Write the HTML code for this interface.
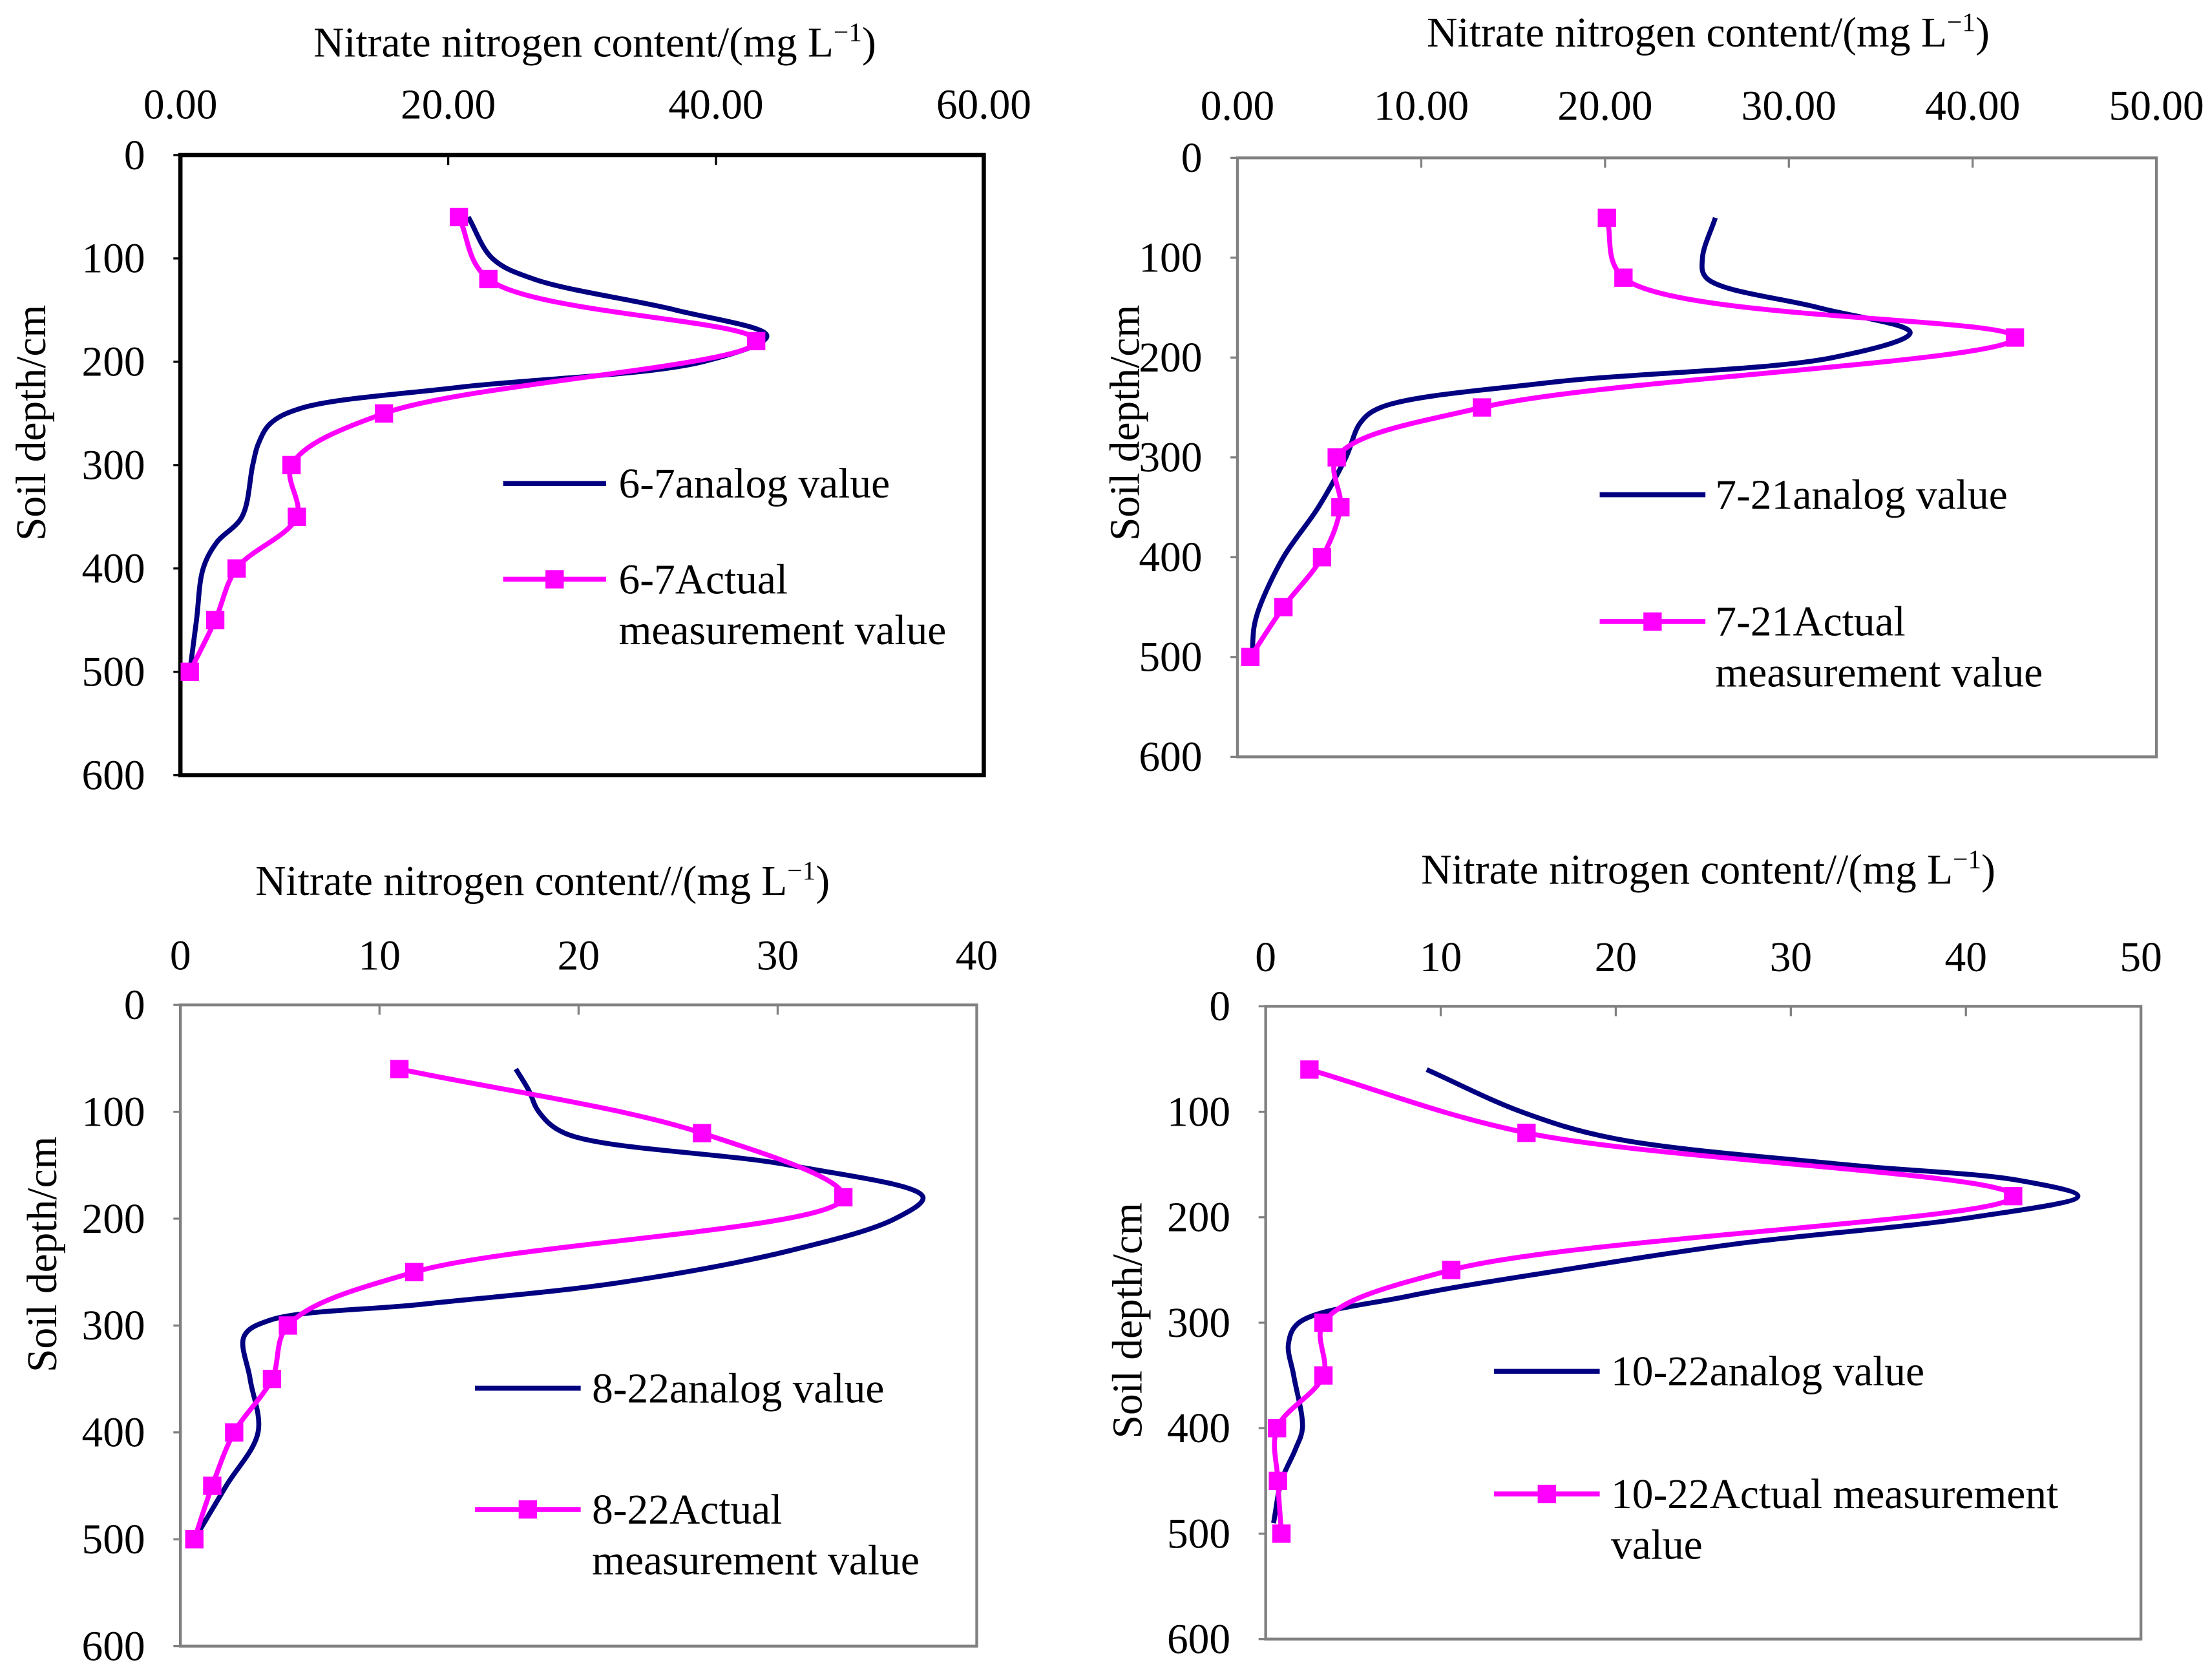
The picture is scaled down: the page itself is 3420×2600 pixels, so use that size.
<!DOCTYPE html>
<html><head><meta charset="utf-8"><style>
html,body{margin:0;padding:0;background:#fff;}
svg{display:block;}
text{font-family:"Liberation Serif",serif;fill:#000;}
</style></head><body>
<svg id="fig" width="3420" height="2600" viewBox="0 0 1568 1192" xmlns="http://www.w3.org/2000/svg"></svg>
<script>
// Panel 1 (6-7)
const p1MeasDepth = [60,120,180,250,300,350,400,450,500];
const p1Meas = [20.8,23.0,43.0,15.2,8.3,8.7,4.2,2.6,0.7];
const p1SimDepth = [60,100,120,150,175,200,225,245,260,280,300,350,375,400,450,500];
const p1Sim = [21.5,23.3,26.4,37,43.8,39,20.6,9,6.7,5.8,5.4,4.6,2.7,1.7,1.2,0.7];
const p1Ticks = ["0.00","20.00","40.00","60.00"];
// Panel 2 (7-21)
const p2MeasDepth = [60,120,180,250,300,350,400,450,500];
const p2Meas = [20.1,21.0,42.3,13.3,5.4,5.6,4.6,2.5,0.7];
const p2SimDepth = [60,100,120,150,175,200,225,250,265,300,350,400,450,470,500];
const p2Sim = [26,25.3,25.5,31.6,36.6,32.4,17,7.8,6.7,5.9,4.4,2.5,1.2,0.9,0.8];
const p2Ticks = ["0.00","10.00","20.00","30.00","40.00","50.00"];
// Panel 3 (8-22)
const p3MeasDepth = [60,120,180,250,300,350,400,450,500];
const p3Meas = [11.0,26.2,33.3,11.75,5.4,4.6,2.7,1.6,0.7];
const p3SimDepth = [60,80,100,120,150,180,200,230,260,280,295,310,350,400,450,500];
const p3Sim = [16.85,17.5,18,19.3,30.6,37.3,35.9,30.6,22,12.2,4.5,3.2,3.5,3.9,2.3,0.7];
const p3Ticks = ["0","10","20","30","40"];
// Panel 4 (10-22)
const p4MeasDepth = [60,120,180,250,300,350,400,450,500];
const p4Meas = [2.5,14.9,42.7,10.6,3.3,3.3,0.65,0.7,0.9];
const p4SimDepth = [60,100,125,150,165,180,200,225,250,275,300,320,350,400,420,450,490];
const p4Sim = [9.2,14.6,19.8,33,43,46.4,40.4,27,17,8.1,1.9,1.3,1.6,2.1,1.7,0.9,0.45];
const p4Ticks = ["0","10","20","30","40","50"];
const yTicks = ["0","100","200","300","400","500","600"];

const NS="http://www.w3.org/2000/svg";
const svg=document.getElementById('fig');
function mk(tag,attrs,parent){const e=document.createElementNS(NS,tag);for(const k in attrs)e.setAttribute(k,attrs[k]);(parent||svg).appendChild(e);return e;}
function dist(a,b){return Math.pow(Math.hypot(a[0]-b[0],a[1]-b[1]),0.5);}
function smooth(pts){
  let d=`M${pts[0][0]},${pts[0][1]}`;
  for(let i=0;i<pts.length-1;i++){
    const p0=pts[Math.max(0,i-1)],p1=pts[i],p2=pts[i+1],p3=pts[Math.min(pts.length-1,i+2)];
    const d1=dist(p0,p1),d2=dist(p1,p2),d3=dist(p2,p3);
    let c1=p1.slice(),c2=p2.slice();
    if(d1>1e-6){for(let k=0;k<2;k++)c1[k]=(d1*d1*p2[k]-d2*d2*p0[k]+(2*d1*d1+3*d1*d2+d2*d2)*p1[k])/(3*d1*(d1+d2));}
    else{for(let k=0;k<2;k++)c1[k]=p1[k]+(p2[k]-p1[k])/3;}
    if(d3>1e-6){for(let k=0;k<2;k++)c2[k]=(d3*d3*p1[k]-d2*d2*p3[k]+(2*d3*d3+3*d3*d2+d2*d2)*p2[k])/(3*d3*(d3+d2));}
    else{for(let k=0;k<2;k++)c2[k]=p2[k]-(p2[k]-p1[k])/3;}
    d+=` C${c1[0]},${c1[1]} ${c2[0]},${c2[1]} ${p2[0]},${p2[1]}`;
  }
  return d;
}
const FS=30;
function panel(cfg){
  const g=mk('g',{});
  
  
  const {L,R,T,B,xmax}=cfg;
  const sx=v=>L+(R-L)*v/xmax, sy=v=>T+(B-T)*v/600;
  const t=mk('text',{x:cfg.titleX,y:cfg.titleY,'font-size':FS,'text-anchor':'middle'},g);
  
  
  t.innerHTML=cfg.title+'(mg L<tspan font-size="19" dy="-11">−1</tspan><tspan dy="11">)</tspan>';
  cfg.ticks.forEach((lab,i)=>{
    const v=xmax*i/(cfg.ticks.length-1);
    const e=mk('text',{x:sx(v),y:cfg.tickY,'font-size':FS,'text-anchor':'middle'},g);
    
    
    e.textContent=lab;
    if(i>0&&i<cfg.ticks.length-1){const tk=mk('line',{x1:sx(v),x2:sx(v),y1:T,y2:T+7,stroke:cfg.border,'stroke-width':1.5},g);
      }
  });
  yTicks.forEach((lab,i)=>{
    const v=i*100;
    const e=mk('text',{x:L-25,y:sy(v)+10,'font-size':FS,'text-anchor':'end'},g);
    
    
    e.textContent=lab;
    const tk=mk('line',{x1:L-5,x2:L,y1:sy(v),y2:sy(v),stroke:cfg.border,'stroke-width':1.5},g);
    
  });
  const yt=mk('text',{x:cfg.ytX,y:cfg.ytY,'font-size':FS,'text-anchor':'middle',transform:`rotate(-90 ${cfg.ytX} ${cfg.ytY})`},g);
  
  
  yt.textContent='Soil depth/cm';
  const box=mk('rect',{x:L,y:T,width:R-L,height:B-T,fill:'none',stroke:cfg.border,'stroke-width':cfg.bw},g);
  
  
  const sim=cfg.sim.map((v,i)=>[sx(v),sy(cfg.simD[i])]);
  const sp=mk('path',{d:smooth(sim),fill:'none',stroke:'#000080','stroke-width':3.5},g);
  
  
  const meas=cfg.meas.map((v,i)=>[sx(v),sy(cfg.measD[i])]);
  const mp=mk('path',{d:smooth(meas),fill:'none',stroke:'#ff00ff','stroke-width':3.5},g);
  
  
  meas.forEach(p=>{
    const r=mk('rect',{x:p[0]-6.5,y:p[1]-6.5,width:13,height:13,fill:'#ff00ff'},g);
    
    
  });
  const lg=cfg.leg;
  const l1=mk('line',{x1:lg.x1,x2:lg.x2,y1:lg.y1,y2:lg.y1,stroke:'#000080','stroke-width':3.5},g);
  
  
  const t1=mk('text',{x:lg.tx,y:lg.y1+10,'font-size':FS},g);
  
  
  t1.textContent=cfg.label+'analog value';
  const l2=mk('line',{x1:lg.x1,x2:lg.x2,y1:lg.y2,y2:lg.y2,stroke:'#ff00ff','stroke-width':3.5},g);
  
  
  const m2=mk('rect',{x:(lg.x1+lg.x2)/2-6.5,y:lg.y2-6.5,width:13,height:13,fill:'#ff00ff'},g);
  
  
  const t2=mk('text',{x:lg.tx,y:lg.y2+10,'font-size':FS},g);
  
  
  t2.textContent=cfg.label+lg.l2a;
  const t3=mk('text',{x:lg.tx,y:lg.y2+46,'font-size':FS},g);
  
  
  t3.textContent=lg.l2b;
}
panel({name:'panel-6-7',L:128,R:698,T:110,B:550,xmax:60,border:'#000',bw:3,
  title:'Nitrate nitrogen content/',titleX:422,titleY:40,tickY:84,ticks:p1Ticks,ytX:32,ytY:300,
  sim:p1Sim,simD:p1SimDepth,meas:p1Meas,measD:p1MeasDepth,label:'6-7',
  leg:{x1:357,x2:430,tx:439,y1:343,y2:411,l2a:'Actual',l2b:'measurement value'}});
panel({name:'panel-7-21',L:878,R:1530,T:112,B:537,xmax:50,border:'#808080',bw:2,
  title:'Nitrate nitrogen content/',titleX:1212,titleY:33,tickY:85,ticks:p2Ticks,ytX:808,ytY:300,
  sim:p2Sim,simD:p2SimDepth,meas:p2Meas,measD:p2MeasDepth,label:'7-21',
  leg:{x1:1135,x2:1210,tx:1217,y1:351,y2:441,l2a:'Actual',l2b:'measurement value'}});
panel({name:'panel-8-22',L:128,R:693,T:713,B:1168,xmax:40,border:'#808080',bw:2,
  title:'Nitrate nitrogen content//',titleX:385,titleY:635,tickY:688,ticks:p3Ticks,ytX:40,ytY:890,
  sim:p3Sim,simD:p3SimDepth,meas:p3Meas,measD:p3MeasDepth,label:'8-22',
  leg:{x1:337,x2:412,tx:420,y1:985,y2:1071,l2a:'Actual',l2b:'measurement value'}});
panel({name:'panel-10-22',L:898,R:1519,T:714,B:1163,xmax:50,border:'#808080',bw:2,
  title:'Nitrate nitrogen content//',titleX:1212,titleY:627,tickY:689,ticks:p4Ticks,ytX:810,ytY:937,
  sim:p4Sim,simD:p4SimDepth,meas:p4Meas,measD:p4MeasDepth,label:'10-22',
  leg:{x1:1060,x2:1135,tx:1143,y1:973,y2:1060,l2a:'Actual measurement',l2b:'value'}});
</script>
</body></html>
